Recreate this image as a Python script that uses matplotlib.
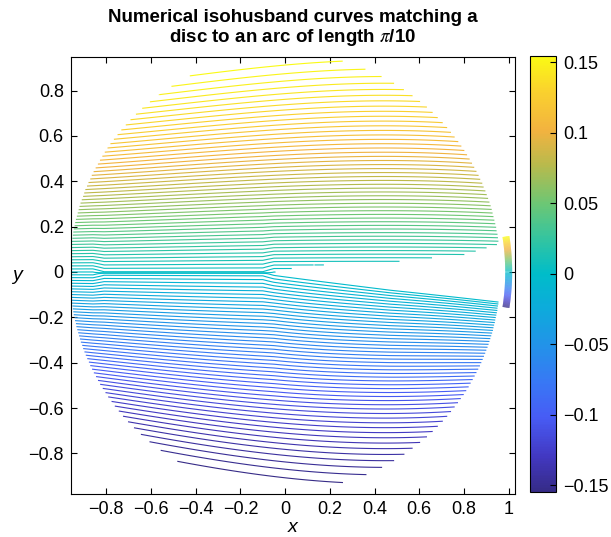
import numpy as np
import matplotlib
matplotlib.use("Agg")
import matplotlib.pyplot as plt
from matplotlib.colors import LinearSegmentedColormap, Normalize
from matplotlib.collections import LineCollection
from matplotlib.cm import ScalarMappable
from matplotlib.ticker import FuncFormatter

# ---------------- data ----------------
title_line1 = "Numerical isohusband curves matching a"
title_line2 = r"disc to an arc of length $\pi$/10"
arc_length = np.pi / 10          # length of the target arc
n_husbands = 100                 # number of isohusband curves + 1
clim = (-0.1545, 0.1545)
xticks = [-0.8, -0.6, -0.4, -0.2, 0, 0.2, 0.4, 0.6, 0.8, 1]
yticks = [-0.8, -0.6, -0.4, -0.2, 0, 0.2, 0.4, 0.6, 0.8]
cbar_ticks = [-0.15, -0.1, -0.05, 0, 0.05, 0.1, 0.15]
xlim = (-0.959, 1.026)
ylim = (-0.979, 0.948)

# geometry of the curves
disc_radius = 0.965
stretch_x = [-1.0, -0.86, -0.48, -0.11, 0.2, 0.5, 1.0]       # vertical stretch of curves
stretch_upper = [0.85, 0.87, 0.91, 0.97, 1.0, 0.99, 0.95]
stretch_lower = [0.78, 0.815, 0.88, 0.968, 1.0, 0.985, 0.95]
gap_upper_x = [-0.05, 0.1, 0.47, 0.8, 0.95, 1.05]            # empty wedge, upper edge
gap_upper_y = [0.0, 0.028, 0.043, 0.075, 0.12, 0.14]
gap_lower_x = [-0.05, 0.47, 0.95, 1.05]                      # empty wedge, lower edge
gap_lower_y = [0.0, -0.07, -0.125, -0.135]
gap_tip_x = -0.05
squeeze_depth = -0.6
band_x = (-0.86, -0.05)          # bunched curves along y = 0 on the left
band_y = -0.004

# colormap anchors (parula-like)
cmap_anchors = [
    (0.00, (0.21, 0.17, 0.53)), (0.08, (0.26, 0.22, 0.76)), (0.17, (0.28, 0.36, 0.96)),
    (0.25, (0.22, 0.47, 0.96)), (0.34, (0.13, 0.58, 0.91)), (0.42, (0.05, 0.67, 0.86)),
    (0.50, (0.00, 0.74, 0.79)), (0.58, (0.20, 0.77, 0.63)), (0.66, (0.42, 0.78, 0.46)),
    (0.75, (0.72, 0.73, 0.30)), (0.83, (0.95, 0.70, 0.25)), (0.92, (0.98, 0.82, 0.18)),
    (1.00, (0.98, 0.98, 0.08)),
]
parula = LinearSegmentedColormap.from_list("parula", cmap_anchors, N=256)

# ---------------- field ----------------
levels = -arc_length / 2 + arc_length / n_husbands * np.arange(1, n_husbands)

xs = np.linspace(-1.0, 1.0, 1000)
ys = np.linspace(-1.0, 1.0, 1000)
X, Y = np.meshgrid(xs, ys)
U = np.interp(X, gap_upper_x, gap_upper_y)
L = np.interp(X, gap_lower_x, gap_lower_y)
Hu = np.polyval(np.polyfit(stretch_x, stretch_upper, 3), X)
Hl = np.polyval(np.polyfit(stretch_x, stretch_lower, 3), X)
H = np.where(Y >= 0, Hu, Hl)

# curves below the wedge are squeezed against its lower edge
lower = (Y < L) & (Y > squeeze_depth)
s = np.clip((Y - L) / (squeeze_depth - L), 0, 1)
r = np.clip((X - gap_tip_x) / 0.9, 0, 1)
p = 1.0 - 0.12 * r * r * (3 - 2 * r)
Yeff = np.where(lower, squeeze_depth * s ** p, Y)
u = np.clip(Yeff / H, -1, 1)
# equal-area share of the disc below the curve, mapped onto the arc
F = (u * np.sqrt(1 - u ** 2) + np.arcsin(u)) * arc_length / np.pi

env = (np.clip((X - band_x[0]) / 0.05, 0, 1) *
       np.clip((band_x[1] - X) / 0.05, 0, 1))
F = F + env * 0.003 * (np.tanh((Y - band_y) / 0.002) - np.tanh((Y - band_y) / 0.15))

mask = (X ** 2 + Y ** 2 > disc_radius ** 2) | ((X > gap_tip_x) & (Y > L) & (Y < U))
Fm = np.ma.array(F, mask=mask)

# ---------------- figure ----------------
plt.rcParams["font.family"] = ["Liberation Sans", "DejaVu Sans"]
plt.rcParams["mathtext.fontset"] = "stix"

fig = plt.figure(figsize=(6.11, 5.37), dpi=100)
ax = fig.add_axes([70.8 / 611, 1 - 494 / 537, (514.5 - 70.8) / 611, (494 - 57) / 537])
norm = Normalize(vmin=clim[0], vmax=clim[1])

ax.contour(X, Y, Fm, levels=levels, cmap=parula, norm=norm, linewidths=0.8)

theta = np.linspace(-arc_length / 2, arc_length / 2, 120)
pts = np.column_stack([np.cos(theta), np.sin(theta)]).reshape(-1, 1, 2)
segs = np.concatenate([pts[:-1], pts[1:]], axis=1)
lc = LineCollection(segs, cmap=parula, norm=norm, linewidths=5, capstyle="butt")
lc.set_array(0.5 * (theta[:-1] + theta[1:]))
ax.add_collection(lc)

ax.set_xlim(*xlim)
ax.set_ylim(*ylim)

fmt = FuncFormatter(lambda v, p: f"{v:g}".replace("-", "\u2212"))
ax.set_xticks(xticks)
ax.set_yticks(yticks)
ax.xaxis.set_major_formatter(fmt)
ax.yaxis.set_major_formatter(fmt)
ax.tick_params(direction="in", top=True, right=True, length=4, width=0.8,
               labelsize=13, pad=5)
for sp in ax.spines.values():
    sp.set_linewidth(0.8)

ax.set_xlabel("x", fontsize=14, fontstyle="italic", labelpad=1)
ax.set_ylabel("y", fontsize=14, fontstyle="italic", rotation=0, labelpad=8,
              va="center")

cx0 = (70.8 + 514.5) / 2 / 611
fig.text(cx0, 1 - 18 / 537, title_line1, ha="center", va="center",
         fontsize=13.5, fontweight="bold")
fig.text(cx0, 1 - 38 / 537, title_line2, ha="center", va="center",
         fontsize=13.5, fontweight="bold")

cax = fig.add_axes([530 / 611, 1 - 491.7 / 537, 26 / 611, (491.7 - 56) / 537])
cb = fig.colorbar(ScalarMappable(norm=norm, cmap=parula), cax=cax, ticks=cbar_ticks)
cb.ax.yaxis.set_major_formatter(fmt)
cb.ax.tick_params(direction="in", length=4, width=0.8, labelsize=13, pad=5)
cb.outline.set_linewidth(0.8)

fig.savefig("out.png", dpi=100)
